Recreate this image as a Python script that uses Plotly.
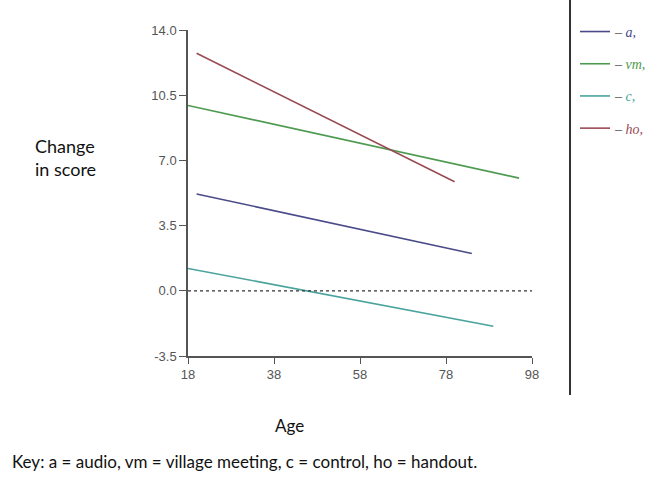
import plotly.graph_objects as go

# Data
series_names = ["a,", "vm,", "c,", "ho,"]
series_ages = [[20, 84], [18, 95], [18, 89], [20, 80]]
series_values = [[5.2, 2.0], [9.95, 6.05], [1.2, -1.9], [12.75, 5.85]]
series_colors = ["#4a4a88", "#4e9a50", "#4aa39c", "#9a4a55"]

ref_ages = [18, 98]
ref_values = [0, 0]

x_ticks = [18, 38, 58, 78, 98]
y_ticks = [-3.5, 0.0, 3.5, 7.0, 10.5, 14.0]
y_tick_text = ["-3.5", "0.0", "3.5", "7.0", "10.5", "14.0"]

fig = go.Figure()

for name, ages, vals, col in zip(series_names, series_ages, series_values, series_colors):
    fig.add_trace(go.Scatter(
        x=ages, y=vals, mode="lines",
        line=dict(color=col, width=1.6),
        name=f"<span style='color:#555'>– </span><span style='color:{col}'><i>{name}</i></span>",
        legendgroup=name,
    ))

fig.add_trace(go.Scatter(
    x=ref_ages, y=ref_values, mode="lines",
    line=dict(color="#333333", width=1.2, dash="3px,3px"),
    showlegend=False, hoverinfo="skip",
))

fig.update_layout(
    width=649, height=483,
    margin=dict(l=188, r=117, t=30, b=127),
    paper_bgcolor="white", plot_bgcolor="white",
    showlegend=True,
    legend=dict(
        xref="container", yref="container",
        x=0.886, y=0.967, xanchor="left", yanchor="top",
        font=dict(family="Liberation Serif", size=14, color="#555"),
        bgcolor="rgba(0,0,0,0)", itemwidth=30,
        tracegroupgap=11, traceorder="grouped",
    ),
    xaxis=dict(
        range=[18, 98], tickvals=x_ticks, ticks="outside", ticklen=6,
        tickcolor="#555", showline=True, linecolor="#555", linewidth=1.5,
        showgrid=False, zeroline=False,
        tickfont=dict(family="Liberation Sans", size=13, color="#555"),
    ),
    yaxis=dict(
        range=[-3.5, 14], tickvals=y_ticks, ticktext=y_tick_text,
        ticks="outside", ticklen=7, tickcolor="#555",
        showline=True, linecolor="#555", linewidth=1.5,
        showgrid=False, zeroline=False,
        tickfont=dict(family="Liberation Sans", size=13, color="#555"),
    ),
    shapes=[dict(
        type="line", xref="paper", yref="paper",
        x0=1.1105, x1=1.1105, y0=1.092, y1=-0.1196,
        line=dict(color="#333333", width=2),
    )],
    annotations=[
        dict(text="Change<br>in score", xref="paper", yref="paper",
             x=-0.45, y=0.61, xanchor="left", yanchor="middle", align="left",
             showarrow=False, font=dict(family="Lato", size=18, color="#111")),
        dict(text="Age", xref="paper", yref="paper",
             x=0.2965, y=-0.212, xanchor="center", yanchor="middle",
             showarrow=False, font=dict(family="Lato", size=17, color="#111")),
        dict(text="Key: a = audio, vm = village meeting, c = control, ho = handout.",
             xref="paper", yref="paper",
             x=-0.517, y=-0.325, xanchor="left", yanchor="middle",
             showarrow=False, font=dict(family="Lato", size=17, color="#111")),
    ],
)

fig.write_html(
    "out.html",
    config={"displayModeBar": False},
    post_script="document.body.style.margin='0';document.documentElement.style.overflow='hidden';document.body.style.overflow='hidden';",
)
